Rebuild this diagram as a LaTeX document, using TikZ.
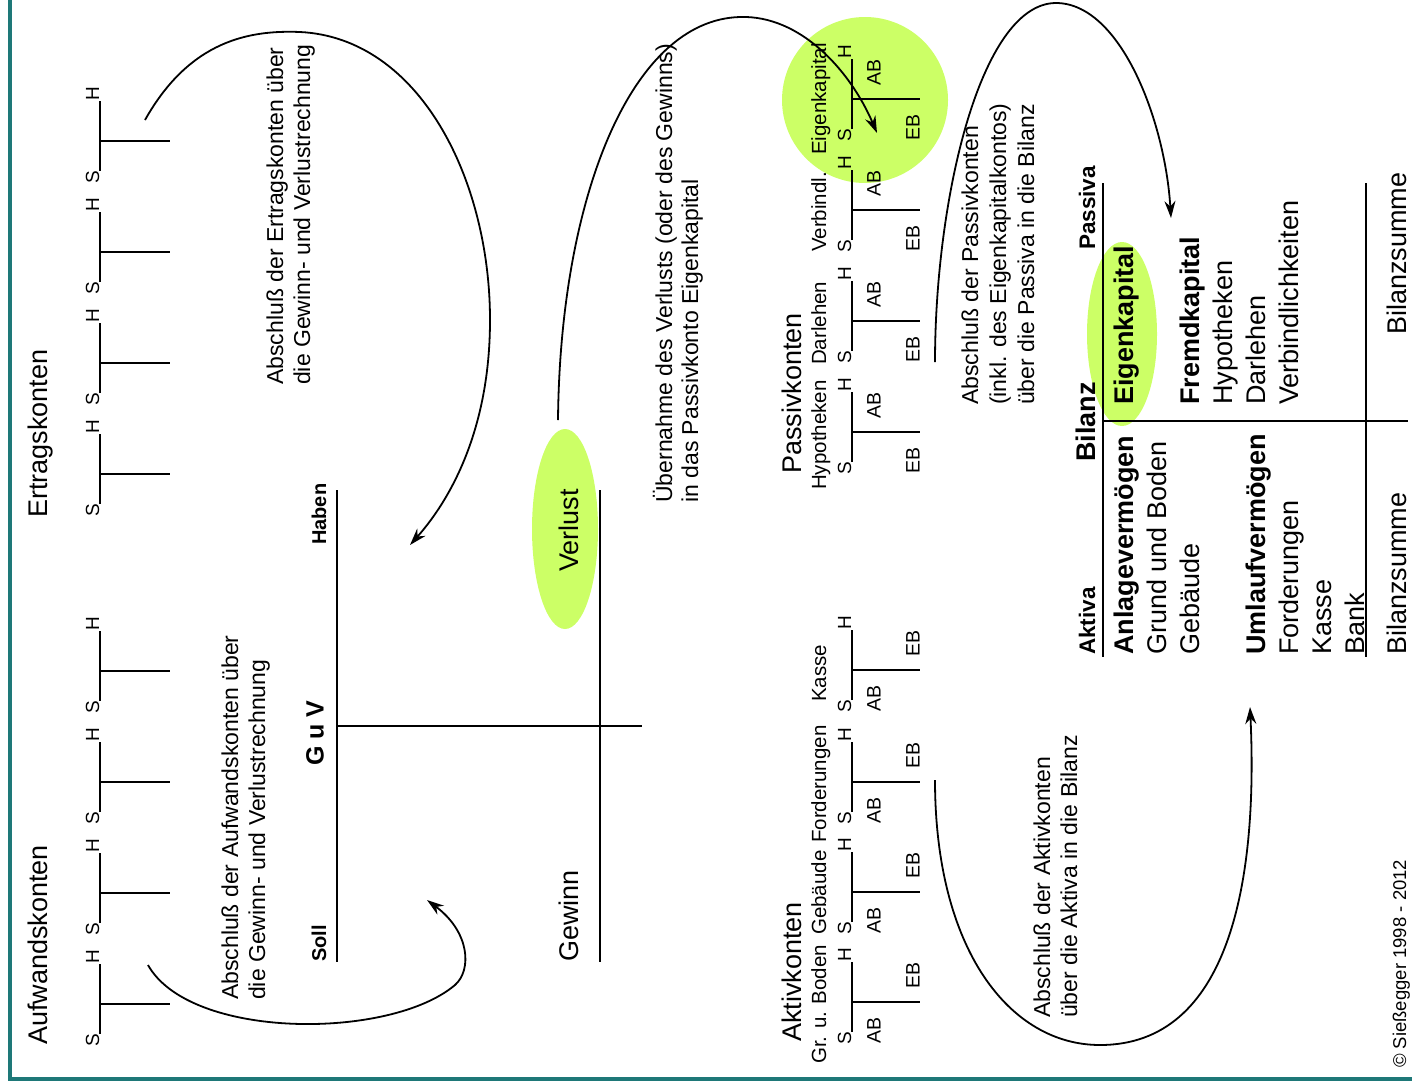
\documentclass[tikz,border=0pt]{standalone}
\usepackage{fontspec}
\setmainfont{Liberation Sans}
\usetikzlibrary{arrows.meta}
\definecolor{framecol}{RGB}{30,120,120}
\definecolor{lime}{RGB}{204,255,102}
\tikzset{
  acct/.style={line width=2.2pt},
  fsh/.style={font=\fontsize{19}{22}\selectfont},
  fab/.style={font=\fontsize{19.5}{23}\selectfont},
  txt/.style={rotate=90,inner sep=0pt,anchor=base west},
  ctr/.style={rotate=90,inner sep=0pt},
  tbar/.pic={
    \draw[acct] (0,-6) -- (0,-76);
    \draw[acct] (0,-36) -- (70,-36);
    \node[txt,fsh] (-S) at (-1,7) {S};
    \node[txt,fsh] (-H) at (-1,-76) {H};
  },
  passT/.pic={
    \draw[acct] (0,-6) -- (0,-76);
    \draw[acct] (0,-36) -- (68,-36);
    \node[txt,fsh] (-S) at (-1,7) {S};
    \node[txt,fsh] (-H) at (-1,-76) {H};
    \node[ctr,fab] (-AB) at (22,-63) {AB};
    \node[ctr,fab] (-EB) at (61,-8) {EB};
  },
  aktT/.pic={
    \draw[acct] (0,-6) -- (0,-76);
    \draw[acct] (0,-36) -- (68,-36);
    \node[txt,fsh] (-S) at (-1,7) {S};
    \node[txt,fsh] (-H) at (-1,-76) {H};
    \node[ctr,fab] (-AB) at (22,-8) {AB};
    \node[ctr,fab] (-EB) at (61,-63) {EB};
  }
}
\begin{document}
\begin{tikzpicture}[x=1pt,y=-1pt,
  fbig/.style={font=\fontsize{27}{32}\selectfont},
  fbigb/.style={font=\fontsize{27}{32}\selectfont\bfseries},
  fmid/.style={font=\fontsize{23}{27}\selectfont},
  fname/.style={font=\fontsize{20.5}{24}\selectfont},
  fhead/.style={font=\fontsize{22.5}{26}\selectfont\bfseries},
  fsmallb/.style={font=\fontsize{20}{24}\selectfont\bfseries},
  conn/.style={line width=1.8pt,-{Stealth[length=17pt,width=11pt]}},
]
\useasboundingbox (0,0) rectangle (1412,1084);
% frame
\draw[framecol,line width=3.5pt] (10,-5) -- (10,1079) -- (1420,1079);

% green highlights
\fill[lime] (565,529) ellipse [x radius=33pt, y radius=100pt];
\fill[lime] (865,100) circle [radius=83pt];
\fill[lime] (1122,334) ellipse [x radius=35pt, y radius=92pt];

% titles
\node[txt,fbig] (aufw) at (47,1045) {Aufwandskonten};
\node[txt,fbig] (ertr) at (47,518) {Ertragskonten};
\node[txt,fbig] (pass) at (801,474) {Passivkonten};
\node[txt,fbig] (aktk) at (801,1042) {Aktivkonten};

% expense / revenue accounts
\pic (w1) at (100,1040) {tbar};
\pic (w2) at (100,929) {tbar};
\pic (w3) at (100,818) {tbar};
\pic (w4) at (100,707) {tbar};
\pic (e1) at (100,510) {tbar};
\pic (e2) at (100,399) {tbar};
\pic (e3) at (100,288) {tbar};
\pic (e4) at (100,177) {tbar};

% passive accounts
\node[txt,fname] (nHyp) at (826,490) {Hypotheken};
\node[txt,fname] (nDar) at (826,365) {Darlehen};
\node[txt,fname] (nVer) at (826,252) {Verbindl.};
\node[txt,fname] (nEig) at (826,155) {Eigenkapital};
\pic (p1) at (852,468) {passT};
\pic (p2) at (852,357) {passT};
\pic (p3) at (852,246) {passT};
\pic (p4) at (852,135) {passT};

% active accounts
\node[txt,fname] (nGru) at (826,1064) {Gr. u. Boden};
\node[txt,fname] (nGeb) at (826,935) {Gebäude};
\node[txt,fname] (nFor) at (826,843) {Forderungen};
\node[txt,fname] (nKas) at (826,702) {Kasse};
\pic (a1) at (852,1038) {aktT};
\pic (a2) at (852,928) {aktT};
\pic (a3) at (852,818) {aktT};
\pic (a4) at (852,706) {aktT};

% GuV
\draw[acct] (337,490) -- (337,962);
\draw[acct] (337,726) -- (642,726);
\draw[acct] (600,490) -- (600,962);
\node[ctr,font=\fontsize{25}{30}\selectfont\bfseries] (guv) at (315,733) {G u V};
\node[txt,fsmallb] (soll) at (326,962) {Soll};
\node[txt,fsmallb] (haben) at (326,545) {Haben};
\node[txt,fbig] (gew) at (578,962) {Gewinn};
\node[txt,fbig] (verl) at (578,572) {Verlust};

% explanations
\node[txt,fmid] (eA1) at (238,1000) {Abschluß der Aufwandskonten über};
\node[txt,fmid] (eA2) at (265,1000) {die Gewinn- und Verlustrechnung};
\node[txt,fmid] (eE1) at (283,385) {Abschluß der Ertragskonten über};
\node[txt,fmid] (eE2) at (310,385) {die Gewinn- und Verlustrechnung};
\node[txt,fmid] (eV1) at (672,503) {Übernahme des Verlusts (oder des Gewinns)};
\node[txt,fmid] (eV2) at (698,503) {in das Passivkonto Eigenkapital};
\node[txt,fmid] (eP1) at (978,405) {Abschluß der Passivkonten};
\node[txt,fmid] (eP2) at (1006,405) {(inkl. des Eigenkapitalkontos)};
\node[txt,fmid] (eP3) at (1034,405) {über die Passiva in die Bilanz};
\node[txt,fmid] (eK1) at (1050,1018) {Abschluß der Aktivkonten};
\node[txt,fmid] (eK2) at (1077,1018) {über die Aktiva in die Bilanz};

% Bilanz
\draw[acct] (1103,183) -- (1103,657);
\draw[acct] (1103,421) -- (1408,421);
\draw[acct] (1366,183) -- (1366,657);
\node[txt,fhead] (akt) at (1095,655) {Aktiva};
\node[txt,fbigb] (bil) at (1095,462) {Bilanz};
\node[txt,fhead] (pas) at (1095,250) {Passiva};
\node[txt,fbigb] (bAnl) at (1133,655) {Anlagevermögen};
\node[txt,fbig] (bGru) at (1166,655) {Grund und Boden};
\node[txt,fbig] (bGeb) at (1199,655) {Gebäude};
\node[txt,fbigb] (bUml) at (1265,655) {Umlaufvermögen};
\node[txt,fbig] (bFor) at (1298,655) {Forderungen};
\node[txt,fbig] (bKas) at (1331,655) {Kasse};
\node[txt,fbig] (bBan) at (1364,655) {Bank};
\node[txt,fbig] (bSumA) at (1406,655) {Bilanzsumme};
\node[txt,fbigb] (bEig) at (1133,405) {Eigenkapital};
\node[txt,fbigb] (bFre) at (1199,405) {Fremdkapital};
\node[txt,fbig] (bHyp) at (1232,405) {Hypotheken};
\node[txt,fbig] (bDar) at (1265,405) {Darlehen};
\node[txt,fbig] (bVer) at (1298,405) {Verbindlichkeiten};
\node[txt,fbig] (bSumP) at (1406,335) {Bilanzsumme};

% copyright
\node[txt,font=\fontsize{18.5}{22}\selectfont] (copy) at (1406,1068) {© Sießegger 1998 - 2012};

% connectors
\coordinate (cA0) at (148,965);
\coordinate (cA1) at (427,900);
\draw[conn] (cA0) .. controls (190,1040) and (390,1040) .. (455,985)
  .. controls (472,970) and (470,932) .. (cA1);
\coordinate (cE0) at (145,120);
\coordinate (cE1) at (410,545);
\draw[conn] (cE0) .. controls (190,40) and (250,30) .. (300,32)
  .. controls (420,38) and (490,180) .. (490,320)
  .. controls (490,430) and (450,500) .. (cE1);
\coordinate (cV0) at (558,420);
\coordinate (cV1) at (877,133);
\draw[conn] (cV0) .. controls (560,200) and (630,20) .. (740,17)
  .. controls (800,15) and (850,70) .. (cV1);
\coordinate (cP0) at (935,362);
\coordinate (cP1) at (1171,218);
\draw[conn] (cP0) .. controls (935,200) and (980,5) .. (1055,3)
  .. controls (1120,2) and (1165,120) .. (cP1);
\coordinate (cK0) at (935,780);
\coordinate (cK1) at (1250,707);
\draw[conn] (cK0) .. controls (935,950) and (1010,1045) .. (1100,1045)
  .. controls (1230,1045) and (1258,880) .. (cK1);
\end{tikzpicture}
\end{document}
